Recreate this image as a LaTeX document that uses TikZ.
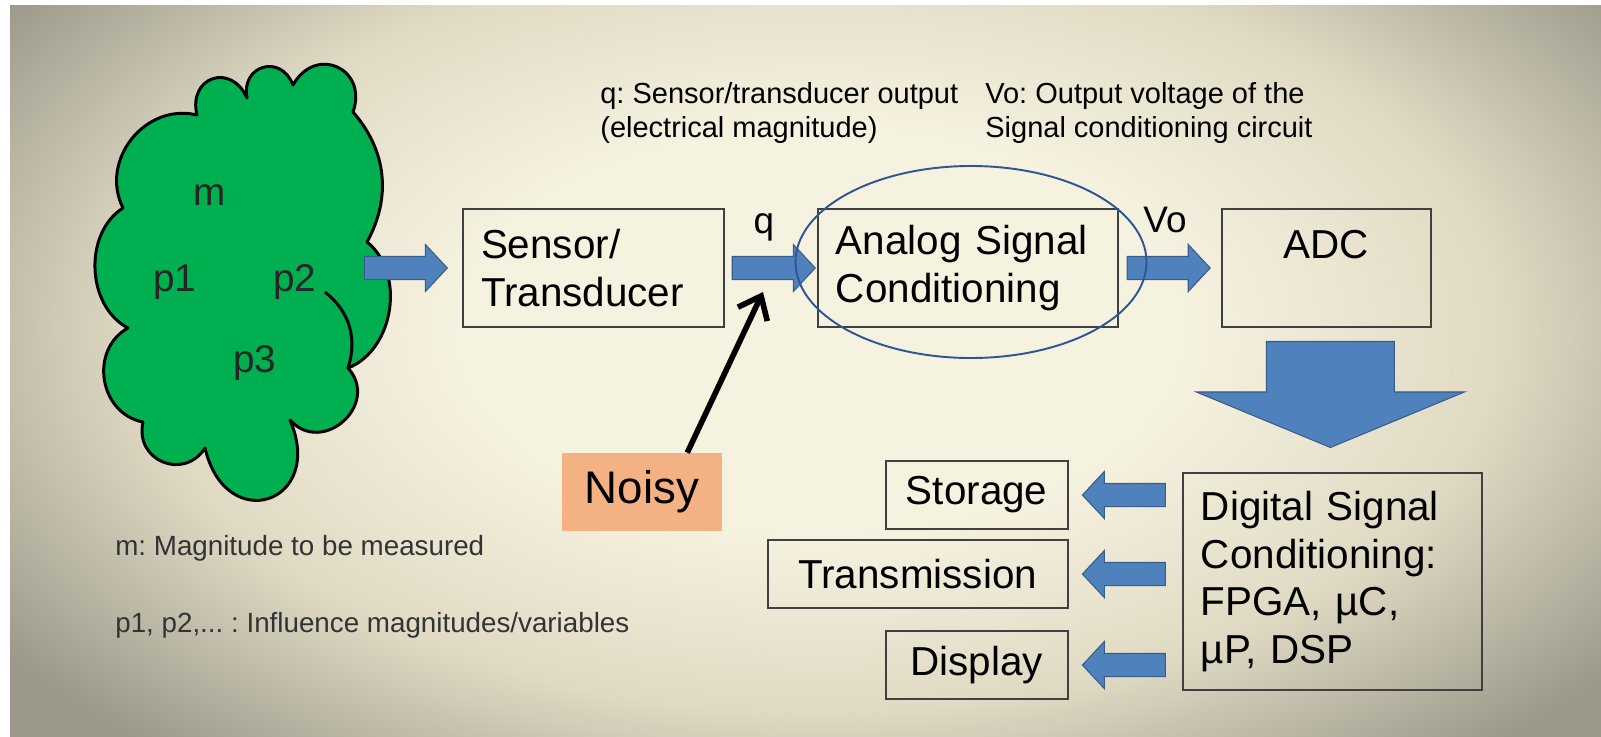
\documentclass[tikz,border=0pt]{standalone}
\usepackage{fontspec}
\setmainfont{Liberation Sans}
\frenchspacing
\usetikzlibrary{arrows.meta,positioning,calc,shapes.geometric,shapes.arrows}
\definecolor{bgin}{RGB}{246,242,224}
\definecolor{bgmid}{RGB}{224,218,196}
\definecolor{bgout}{RGB}{156,153,138}
\definecolor{cloudgreen}{RGB}{0,176,80}
\definecolor{arrowblue}{RGB}{79,129,189}
\definecolor{arrowedge}{RGB}{56,93,138}
\definecolor{ringblue}{RGB}{47,85,151}
\definecolor{noisyfill}{RGB}{244,177,131}
\pgfdeclareradialshading{bgglow}{\pgfpoint{0bp}{0bp}}{color(0bp)=(bgin); color(9bp)=(bgin);
  color(17bp)=(bgmid); color(25bp)=(bgout); color(50bp)=(bgout)}
\newcommand{\boxfont}{\fontsize{23}{27.3}\selectfont}
\newcommand{\cloudfont}{\fontsize{22}{26}\selectfont}
\newcommand{\notefont}{\fontsize{16.5}{19.5}\selectfont}
\newcommand{\capfont}{\fontsize{15.8}{19}\selectfont}
\newcommand{\sigfont}{\fontsize{21}{24}\selectfont}
\newcommand{\noisyfont}{\fontsize{26}{30}\selectfont}
\tikzset{
  box/.style={draw=black!75, line width=1.1pt, font=\boxfont, inner xsep=3.6mm,
              inner ysep=0pt, minimum height=23.6mm},
  textbox/.style={box, text width=#1, align=left},
  smallbox/.style={box, minimum height=13.6mm, minimum width=36.4mm, align=center},
  flowarrow/.style={single arrow, draw=arrowedge, fill=arrowblue, line width=0.6pt,
                    minimum height=16.6mm, inner xsep=0pt, inner ysep=2.2mm,
                    single arrow head extend=2.4mm, single arrow tip angle=94,
                    single arrow head indent=0pt},
  bigarrow/.style={flowarrow, minimum height=21.2mm, inner ysep=12.7mm,
                   single arrow head extend=14mm, single arrow tip angle=135},
  cloudshape/.style={draw=black, fill=cloudgreen, line width=1.7pt, line join=round},
  cloudtext/.style={font=\cloudfont, text=black!85},
  note/.style={font=\notefont, align=left, anchor=west, inner sep=0pt},
  caption/.style={font=\capfont, text=black!80, anchor=west, inner sep=0pt},
  signame/.style={font=\sigfont, anchor=base, inner sep=0pt},
  noisearrow/.style={-{Straight Barb[length=4mm, width=6.5mm]}, line width=3.2pt},
}

\begin{document}
\begin{tikzpicture}[x=0.2mm, y=-0.2mm]
\useasboundingbox (0,0) rectangle (1601,737);

% ============================ backdrop ================================
\begin{scope}
  \clip (10,5) rectangle (1601,737);
  \fill[bgout] (10,5) rectangle (1601,737);
  \shade[shading=bgglow] (820,330) ellipse [x radius=200mm, y radius=112mm];
\end{scope}

% ============================ measurand ===============================
\draw[cloudshape] (123,208) to[bend right=60] (128,328)
  to[bend right=70, looseness=1.2] (143,422)
  to[bend right=80, looseness=1.5] (205,448)
  to[bend right=95, looseness=2.6] (290,420)
  to[bend right=90, looseness=1.6] (348,368)
  to[bend right=60] (367,242)
  to[bend right=35] (353,112)
  to[bend right=85, looseness=1.8] (293,85)
  to[bend right=85, looseness=1.8] (247,98)
  to[bend right=85, looseness=1.9] (197,115)
  to[bend right=65, looseness=1.15] (123,208) -- cycle;
\draw[line width=1.7pt] (325,292) to[bend left=35] (348,368);
\node[cloudtext] (m)  at (210,195) {m};
\node[cloudtext] (p1) at (175,282) {p1};
\node[cloudtext] (p2) at (295,282) {p2};
\node[cloudtext] (p3) at (255,363) {p3};

\node[caption] (capm) at (115,548) {m: Magnitude to be measured};
\node[caption] (capp) at (115,625) {p1, p2,... : Influence magnitudes/variables};

% ============================ analog chain ============================
\node[textbox=45mm] (sensor) at (593.5,268) {Sensor/\\Transducer};
\node[textbox=52.8mm, right=18.4mm of sensor] (asc) {Analog Signal\\Conditioning};
\node[box, minimum width=41.8mm, align=center, right=20.4mm of asc] (adc) {ADC\\\mbox{}};

\node[flowarrow, left=2.8mm of sensor] (inarrow) {};
\node[flowarrow, left=0.2mm of asc] (qarrow) {};
\node[flowarrow, left=2mm of adc] (voarrow) {};
\node[signame] (q) at (764,233) {q};
\node[signame] (vo) at (1165,232) {Vo};

\node[note] (qnote) at (600,113) {q: Sensor/transducer output\\(electrical magnitude)};
\node[note] (vonote) at (985,113) {Vo: Output voltage of the\\Signal conditioning circuit};

% noise enters at the sensor output
\node[draw=ringblue, line width=1.1pt, ellipse, minimum width=70.2mm,
      minimum height=38.4mm] (ring) at (971,262) {};
\node[fill=noisyfill, minimum width=32mm, minimum height=15.6mm, font=\noisyfont]
  (noisy) at (642,492) {Noisy};
\coordinate (qtap) at (763,292);
\draw[noisearrow] (noisy.41) -- (qtap);

% ============================ digital side ============================
\node[bigarrow, rotate=-90, anchor=tail] (down) at ($(adc.south)+(0.8mm,-2.6mm)$) {};
\node[textbox=52.6mm, minimum height=43.4mm, below=4.8mm of down.tip, xshift=0.4mm]
  (dsc) {Digital Signal\\Conditioning:\\FPGA, µC,\\µP, DSP};

\node[flowarrow, rotate=180, anchor=tail] (tostore) at ($(dsc.west)+(-3.2mm,17.3mm)$) {};
\node[flowarrow, rotate=180, anchor=tail] (tosend) at ($(dsc.west)+(-3.2mm,1.5mm)$) {};
\node[flowarrow, rotate=180, anchor=tail] (toshow) at ($(dsc.west)+(-3.2mm,-16.7mm)$) {};
\node[smallbox, left=2.6mm of tostore.tip] (storage) {Storage};
\node[smallbox, minimum width=60mm, left=2.6mm of tosend.tip] (trans) {Transmission};
\node[smallbox, left=2.6mm of toshow.tip] (display) {Display};

\end{tikzpicture}
\end{document}
